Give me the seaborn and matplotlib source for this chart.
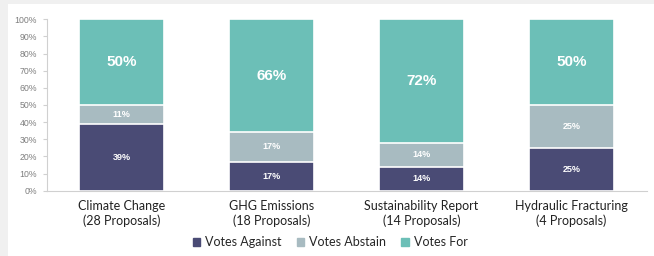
import matplotlib
matplotlib.use("Agg")
import matplotlib.pyplot as plt
import seaborn as sns
import pandas as pd
from matplotlib.patches import Rectangle

# data
categories = ["Climate Change\n(28 Proposals)", "GHG Emissions\n(18 Proposals)",
              "Sustainability Report\n(14 Proposals)", "Hydraulic Fracturing\n(4 Proposals)"]
votes_against = [39, 17, 14, 25]
votes_abstain = [11, 17, 14, 25]
votes_for = [50, 66, 72, 50]

c_against = "#4a4b75"
c_abstain = "#a8bbc1"
c_for = "#6cbfb7"

df = pd.DataFrame({"cat": categories, "against": votes_against,
                   "abstain": votes_abstain, "for": votes_for})
df["top_abstain"] = df["against"] + df["abstain"]
df["top_for"] = df["top_abstain"] + df["for"]

sns.set_style("white")
plt.rcParams["font.family"] = ["Liberation Sans", "DejaVu Sans"]

fig = plt.figure(figsize=(6.54, 2.56), dpi=100, facecolor="#f0f0f0")
fig.patches.append(Rectangle((8 / 654, 0), 1, 1 - 4 / 256, transform=fig.transFigure,
                             facecolor="white", edgecolor="none", zorder=-10))
ax = fig.add_axes([46.5 / 654, 1 - 190.7 / 256, 600 / 654, 171.4 / 256])
ax.set_facecolor("none")

# stacked look: draw cumulative totals from the top down
w = 0.567
for col, c in [("top_for", c_for), ("top_abstain", c_abstain), ("against", c_against)]:
    sns.barplot(data=df, x="cat", y=col, color=c, width=w, ax=ax,
                edgecolor="white", linewidth=1.2, saturation=1)

# value labels
for i, row in df.iterrows():
    ax.text(i, row["against"] / 2, f"{row['against']}%", ha="center", va="center",
            color="white", fontsize=6.5, fontweight="bold")
    ax.text(i, row["against"] + row["abstain"] / 2, f"{row['abstain']}%", ha="center",
            va="center", color="white", fontsize=6.5, fontweight="bold")
    ax.text(i, row["top_abstain"] + row["for"] / 2, f"{row['for']}%", ha="center",
            va="center", color="white", fontsize=11, fontweight="bold")

ax.set_ylim(0, 100)
ax.set_xlim(-0.5, 3.5)
ax.set_yticks(range(0, 101, 10))
ax.set_yticklabels([f"{v}%" for v in range(0, 101, 10)], fontsize=6.3, color="#7f7f7f")
ax.set_xticks(range(4))
ax.set_xticklabels(categories, fontsize=9, color="#222222", family=["Lato", "DejaVu Sans"],
                   linespacing=1.15)
ax.set_xticks([0.5, 1.5, 2.5], minor=True)
ax.tick_params(axis="x", which="major", length=0, pad=7)
ax.tick_params(axis="x", which="minor", length=3, color="#d0d0d0", width=0.8)
ax.tick_params(axis="y", length=3, color="#d0d0d0", width=0.8, pad=4, left=True)
ax.set_xlabel("")
ax.set_ylabel("")
sns.despine(ax=ax, top=True, right=True)
for s in ["left", "bottom"]:
    ax.spines[s].set_color("#d0d0d0")
    ax.spines[s].set_linewidth(0.8)

handles = [Rectangle((0, 0), 1, 1, color=c) for c in [c_against, c_abstain, c_for]]
fig.legend(handles, ["Votes Against", "Votes Abstain", "Votes For"], loc="center",
           bbox_to_anchor=(0.505, 1 - 242 / 256), ncol=3, frameon=False,
           prop={"family": "Lato", "size": 9}, handlelength=0.6, handleheight=0.6,
           handletextpad=0.4, columnspacing=1.2)

fig.savefig("out.png", dpi=100, facecolor=fig.get_facecolor())
